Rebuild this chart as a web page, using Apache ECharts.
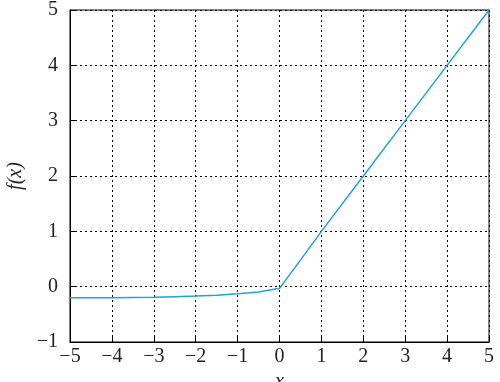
<!DOCTYPE html>
<html>
<head>
<meta charset="utf-8">
<script src="https://cdn.jsdelivr.net/npm/echarts@6/dist/echarts.min.js"></script>
<style>html,body{margin:0;padding:0;background:#fff;overflow:hidden;}#c{width:500px;height:382px;}</style>
</head>
<body>
<div id="c"></div>
<script>
const xValues = [-5, -4.5, -4, -3.5, -3, -2.5, -2, -1.5, -1, -0.5, 0, 0.5, 1, 2, 3, 4, 5];
const yValues = [-0.2, -0.2, -0.2, -0.195, -0.19, -0.18, -0.17, -0.155, -0.13, -0.095, -0.03, 0.48, 1, 2, 3, 4, 5];
const xTicks = [-5, 5, 1];
const yTicks = [-1, 5, 1];

const chart = echarts.init(document.getElementById('c'));
const FF = 'Times New Roman, Liberation Serif, serif';
const fmt = v => String(v).replace('-', '\u2212');
chart.setOption({
  animation: false,
  textStyle: { fontFamily: FF },
  grid: { left: 70, right: 11, top: 10, bottom: 40, show: true, borderColor: '#000', borderWidth: 1, containLabel: false, outerBoundsMode: 'none' },
  xAxis: {
    type: 'value', min: xTicks[0], max: xTicks[1], interval: xTicks[2],
    name: 'x', nameLocation: 'middle', nameGap: 20,
    nameTextStyle: { fontFamily: FF, fontStyle: 'italic', fontSize: 20, color: '#222', verticalAlign: 'top', lineHeight: 20 },
    axisLine: { show: true, onZero: false, lineStyle: { color: '#000', width: 1 } },
    axisTick: { show: true, inside: true, length: 5, lineStyle: { color: '#000' } },
    axisLabel: { formatter: fmt, fontFamily: FF, fontSize: 20, color: '#222', margin: 5 },
    splitLine: { show: true, lineStyle: { color: '#000', type: [2, 3], width: 1 } }
  },
  yAxis: {
    type: 'value', min: yTicks[0], max: yTicks[1], interval: yTicks[2],
    name: 'f(x)', nameLocation: 'middle', nameGap: 34, nameRotate: 90,
    nameTextStyle: { fontFamily: FF, fontStyle: 'italic', fontSize: 20, color: '#222' },
    axisLine: { show: true, onZero: false, lineStyle: { color: '#000', width: 1 } },
    axisTick: { show: true, inside: true, length: 5, lineStyle: { color: '#000' } },
    axisLabel: { formatter: fmt, fontFamily: FF, fontSize: 20, color: '#222', margin: 12 },
    splitLine: { show: true, lineStyle: { color: '#000', type: [2, 3], width: 1 } }
  },
  series: [{
    type: 'line', showSymbol: false, smooth: false,
    data: xValues.map((x, i) => [x, yValues[i]]),
    lineStyle: { color: '#1ba3e0', width: 1.5 }
  }]
});
</script>
</body>
</html>
